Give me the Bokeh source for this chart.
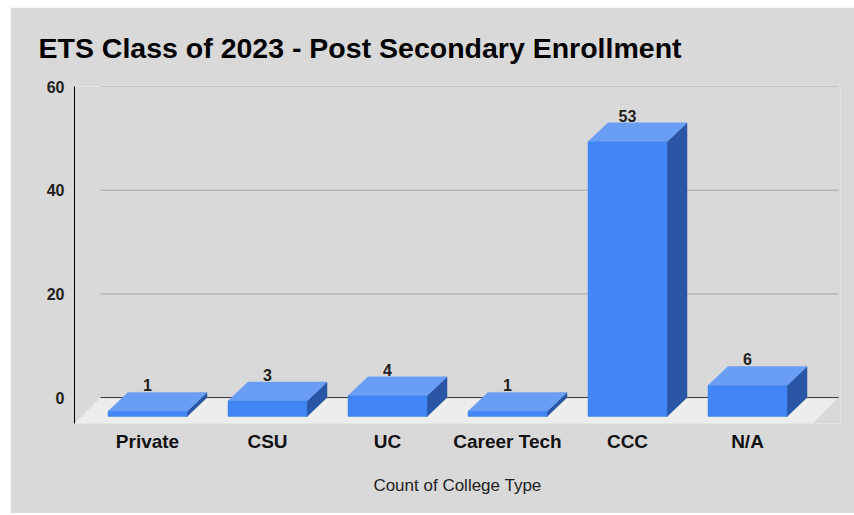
from bokeh.plotting import figure
from bokeh.models import FixedTicker, ColumnDataSource, LinearAxis, Range1d
from bokeh.embed import file_html
from bokeh.resources import INLINE

# ---- data ----
categories = ["Private", "CSU", "UC", "Career Tech", "CCC", "N/A"]
counts = [1, 3, 4, 1, 53, 6]
y_ticks = [0, 20, 40, 60]
title_text = "ETS Class of 2023 - Post Secondary Enrollment"
x_title = "Count of College Type"

# ---- layout constants (pixels of the reference) ----
SLOT_PX = 120.0          # px per category
PX_PER_UNIT = 5.2        # px per count
FRAME_LEFT_PX = 74.0
FIRST_CENTER_PX = 147.0
X0 = -(FIRST_CENTER_PX - FRAME_LEFT_PX) / SLOT_PX


def xd(px):
    return (px - FRAME_LEFT_PX) / SLOT_PX + X0


DX = 20 / SLOT_PX            # 3D depth offset (x)
DY = 19 / PX_PER_UNIT        # 3D depth offset (y)
HALF = 39.5 / SLOT_PX        # half bar width
FLOOR_DX = 26 / SLOT_PX
FLOOR_DY = 26 / PX_PER_UNIT

FRONT = "#4285F4"
TOP = "#6A9EF5"
SIDE = "#2B56A6"
BG = "#D9D9D9"

xs = list(range(len(categories)))

p = figure(width=844, height=506, output_backend="svg", toolbar_location=None,
           x_range=Range1d(X0, X0 + 766 / SLOT_PX), y_range=Range1d(-FLOOR_DY, 60),
           min_border_left=64, min_border_right=14, min_border_top=78, min_border_bottom=90,
           background_fill_color=BG, border_fill_color=BG, outline_line_color=None,
           x_axis_location=None, y_axis_location=None)
p.margin = (7, 0, 2, 10)
p.grid.visible = False

# title
p.title.text = title_text
p.title.text_font = "Liberation Sans"
p.title.text_font_size = "28.5px"
p.title.text_font_style = "bold"
p.title.text_color = "#000000"
p.title.align = "left"
p.title.offset = -36
p.title.standoff = 45

# floor
fl_x = [xd(74), xd(812), xd(812) + FLOOR_DX, xd(74) + FLOOR_DX]
fl_y = [-FLOOR_DY, -FLOOR_DY, 0, 0]
p.patch(fl_x, fl_y, fill_color="#EDEDED", line_color=None)

# gridlines
grid_vals = [t for t in y_ticks if t != 0]
p.segment(x0=[xd(74) + FLOOR_DX] * len(grid_vals), y0=grid_vals,
          x1=[xd(812) + FLOOR_DX] * len(grid_vals), y1=grid_vals,
          line_color="#A6A6A6", line_width=1)
p.segment(x0=[xd(74) + FLOOR_DX], y0=[0], x1=[xd(812) + FLOOR_DX], y1=[0],
          line_color="#333333", line_width=1)

# bars: front, top, side faces
front_xs, front_ys, top_xs, top_ys, side_xs, side_ys = [], [], [], [], [], []
for x, v in zip(xs, counts):
    x0, x1 = x - HALF, x + HALF
    front_xs.append([x0, x1, x1, x0])
    front_ys.append([-DY, -DY, v - DY, v - DY])
    top_xs.append([x0, x1, x1 + DX, x0 + DX])
    top_ys.append([v - DY, v - DY, v, v])
    side_xs.append([x1, x1 + DX, x1 + DX, x1])
    side_ys.append([-DY, 0, v, v - DY])

p.patches(side_xs, side_ys, fill_color=SIDE, line_color=SIDE, line_width=0.5)
p.patches(top_xs, top_ys, fill_color=TOP, line_color=TOP, line_width=0.5)
p.patches(front_xs, front_ys, fill_color=FRONT, line_color=FRONT, line_width=0.5)

# value labels
src = ColumnDataSource(dict(x=xs, y=counts, t=[str(c) for c in counts]))
p.text(x="x", y="y", text="t", source=src, text_align="center", text_baseline="middle",
       y_offset=-7, text_font_size="16px", text_font_style="bold", text_color="#222222",
       text_font={"value": "Liberation Sans"})

# y axis
ya = LinearAxis(ticker=FixedTicker(ticks=y_ticks))
ya.axis_line_color = "#000000"
ya.axis_line_width = 1
ya.major_tick_line_color = None
ya.minor_tick_line_color = None
ya.major_label_standoff = 4
ya.major_label_text_font = "Liberation Sans"
ya.major_label_text_font_size = "16px"
ya.major_label_text_font_style = "bold"
ya.major_label_text_color = "#222222"
p.add_layout(ya, "left")

# x axis
xa = LinearAxis(ticker=FixedTicker(ticks=xs),
                major_label_overrides={i: c for i, c in zip(xs, categories)})
xa.axis_line_color = None
xa.major_tick_line_color = None
xa.minor_tick_line_color = None
xa.major_label_standoff = 1
xa.major_label_text_font = "Liberation Sans"
xa.major_label_text_font_size = "19px"
xa.major_label_text_font_style = "bold"
xa.major_label_text_color = "#111111"
xa.axis_label = x_title
xa.axis_label_text_font = "Liberation Sans"
xa.axis_label_text_font_size = "17px"
xa.axis_label_text_font_style = "normal"
xa.axis_label_text_color = "#222222"
xa.axis_label_standoff = 21
p.add_layout(xa, "below")

open("out.html", "w").write(file_html(p, INLINE))
